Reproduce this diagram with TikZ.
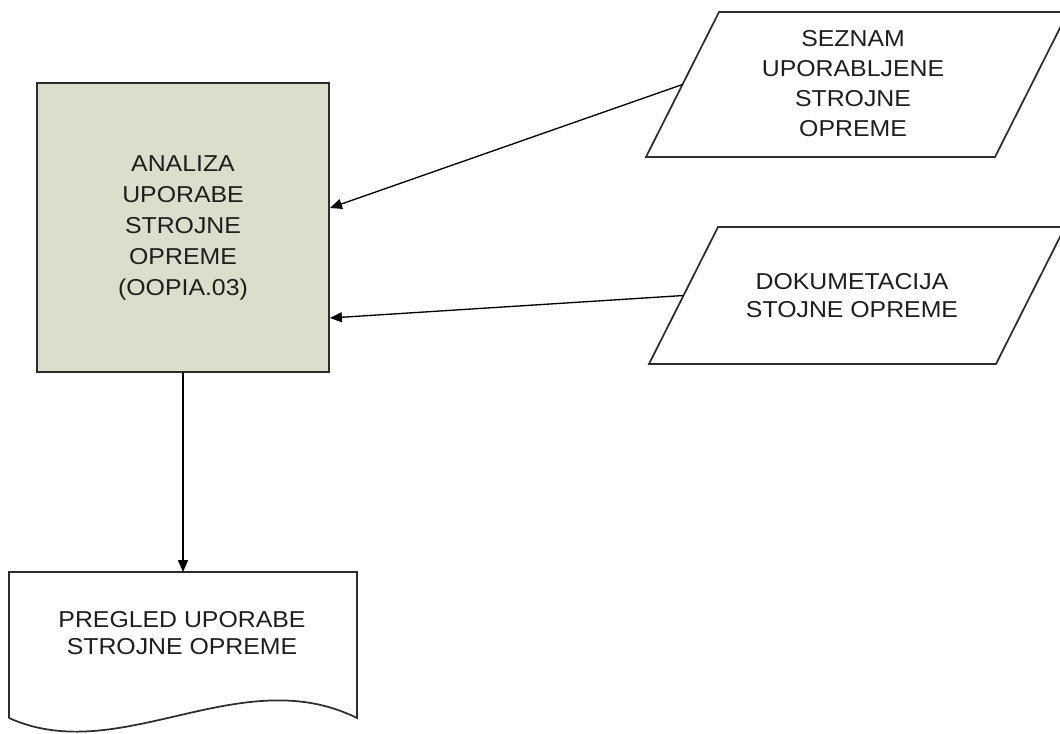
\documentclass[tikz,border=0pt]{standalone}
\usepackage{fontspec}
\setmainfont{Liberation Sans}[FakeStretch=1.08]
\usetikzlibrary{arrows.meta,calc}
\definecolor{procfill}{RGB}{220,222,204}
\definecolor{inkline}{RGB}{45,45,45}
\definecolor{inktext}{RGB}{30,30,30}

\begin{document}
\begin{tikzpicture}[x=0.75pt,y=-0.75pt,
  lbl/.style={align=center, text=inktext},
  edge/.style={draw=inkline, line width=1.3pt, line join=miter},
  conn/.style={draw=black, line width=1pt, -{Triangle[length=9pt,width=7.5pt]}}]
\useasboundingbox (0,0) rectangle (1060,733);
\clip (0,0) rectangle (1060,733);

% process box
\node[draw=inkline, line width=1.4pt, fill=procfill, minimum width=219pt,
      minimum height=216.75pt, inner sep=0pt, lbl,
      font=\fontsize{17.25pt}{23.25pt}\selectfont] (proc) at (183,227.5)
  {ANALIZA\\UPORABE\\STROJNE\\OPREME\\(OOPIA.03)};

% input data: list of used machinery
\coordinate (p1a) at (646,157);
\coordinate (p1b) at (719,12);
\draw[edge] (p1a) -- (p1b) -- (1068,12) -- (995,157) -- cycle;
\coordinate (p1l) at ($(p1a)!0.5!(p1b)$);
\node[lbl, font=\fontsize{17.25pt}{22.5pt}\selectfont] (t1) at (853,84)
  {SEZNAM\\UPORABLJENE\\STROJNE\\OPREME};

% input data: machinery documentation
\coordinate (p2a) at (649,364);
\coordinate (p2b) at (718,227);
\draw[edge] (p2a) -- (p2b) -- (1065,227) -- (996,364) -- cycle;
\coordinate (p2l) at ($(p2a)!0.5!(p2b)$);
\node[lbl, font=\fontsize{17.25pt}{21pt}\selectfont] (t2) at (852,296)
  {DOKUMETACIJA\\STOJNE OPREME};

% output document
\coordinate (doctop) at (183,572);
\draw[edge] (9,718) -- (9,572) -- (357,572) -- (357,718)
  .. controls (240,660) and (120,768) .. (9,718);
\node[lbl, font=\fontsize{17.25pt}{20.25pt}\selectfont] (doc) at (182,633.5)
  {PREGLED UPORABE\\STROJNE OPREME};

% connectors
\coordinate (y1) at (0,208);
\coordinate (y2) at (0,318);
\draw[conn] (p1l) -- (proc.east |- y1);
\draw[conn] (p2l) -- (proc.east |- y2);
\draw[conn] (proc.south) -- (doctop);
\end{tikzpicture}
\end{document}
